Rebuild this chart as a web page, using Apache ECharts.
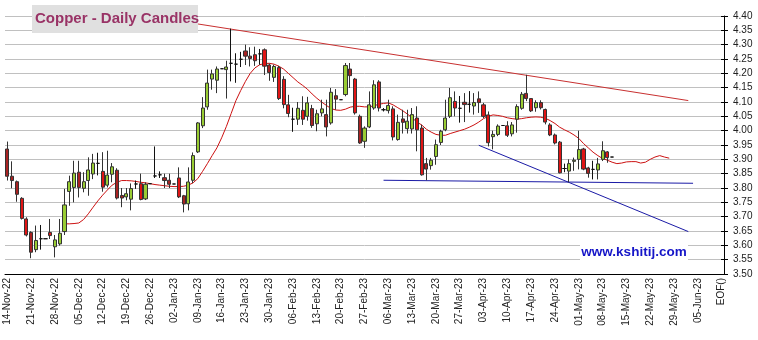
<!DOCTYPE html>
<html>
<head>
<meta charset="utf-8">
<script src="https://cdn.jsdelivr.net/npm/echarts@6/dist/echarts.min.js"></script>
<style>
  html, body { margin: 0; padding: 0; background: #ffffff; }
  #chart { width: 758px; height: 340px; }
</style>
</head>
<body>
<div id="chart"></div>
<script>
// Weekly tick labels (Mondays), one every five trading days; last slot is the end marker
const tickLabels = ['14-Nov-22','21-Nov-22','28-Nov-22','05-Dec-22','12-Dec-22','19-Dec-22','26-Dec-22',
  '02-Jan-23','09-Jan-23','16-Jan-23','23-Jan-23','30-Jan-23','06-Feb-23','13-Feb-23','20-Feb-23','27-Feb-23',
  '06-Mar-23','13-Mar-23','20-Mar-23','27-Mar-23','03-Apr-23','10-Apr-23','17-Apr-23','24-Apr-23',
  '01-May-23','08-May-23','15-May-23','22-May-23','29-May-23','05-Jun-23','EOF()'];

// Daily copper prices, one entry per weekday from 14-Nov-22
const opens = [3.936,3.841,3.822,3.764,3.692,3.645,3.585,3.623,3.623,3.645,
  3.595,3.605,3.648,3.788,3.802,3.855,3.799,3.826,3.849,3.886,
  3.858,3.810,3.848,3.862,3.774,3.769,3.761,3.814,3.815,3.762,
  3.815,3.842,3.846,3.836,3.827,3.814,3.835,3.773,3.745,3.827,
  3.926,4.017,4.083,4.180,4.176,4.216,4.213,4.235,4.232,4.249,
  4.278,4.260,4.265,4.268,4.282,4.229,4.186,4.220,4.179,4.090,
  4.040,4.040,4.071,4.050,4.077,4.024,4.062,4.056,4.027,4.122,
  4.108,4.126,4.215,4.180,4.050,3.963,4.013,4.079,4.170,4.073,
  4.070,4.076,3.969,4.041,4.007,4.006,4.044,4.009,3.885,3.878,
  3.910,3.959,4.003,4.050,4.102,4.078,4.099,4.092,4.086,4.111,
  4.090,4.055,3.979,3.987,4.018,4.017,3.989,4.040,4.078,4.130,
  4.112,4.080,4.098,4.074,4.020,3.985,3.960,3.868,3.859,3.893,
  3.900,3.936,3.870,3.865,3.863,3.900,3.926,3.908];
const closes = [3.841,3.826,3.778,3.694,3.636,3.576,3.617,3.623,3.623,3.634,
  3.619,3.642,3.741,3.822,3.852,3.802,3.822,3.863,3.887,3.886,
  3.803,3.845,3.874,3.765,3.765,3.780,3.798,3.814,3.760,3.813,
  3.815,3.842,3.846,3.826,3.813,3.814,3.769,3.744,3.821,3.913,
  4.027,4.079,4.166,4.198,4.215,4.216,4.222,4.235,4.232,4.249,
  4.260,4.252,4.244,4.268,4.225,4.203,4.224,4.112,4.091,4.060,
  4.040,4.078,4.040,4.097,4.018,4.059,4.076,4.013,4.134,4.110,
  4.108,4.227,4.192,4.062,3.957,4.009,4.090,4.160,4.079,4.073,
  4.088,3.978,4.029,4.029,4.033,4.056,4.003,3.846,3.866,3.897,
  3.951,3.998,4.044,4.115,4.079,4.078,4.091,4.092,4.098,4.098,
  4.050,3.958,3.987,4.016,4.018,3.984,4.020,4.084,4.127,4.112,
  4.069,4.098,4.080,4.030,3.985,3.957,3.853,3.868,3.885,3.897,
  3.934,3.866,3.851,3.865,3.884,3.930,3.906,3.908];
const lows = [3.826,3.799,3.752,3.690,3.631,3.555,3.576,3.585,3.623,3.622,
  3.558,3.599,3.636,3.738,3.750,3.767,3.785,3.773,3.831,3.844,
  3.787,3.802,3.820,3.760,3.733,3.757,3.722,3.797,3.757,3.758,
  3.815,3.835,3.835,3.800,3.800,3.814,3.765,3.715,3.722,3.817,
  3.922,4.009,4.073,4.143,4.131,4.216,4.112,4.172,4.167,4.222,
  4.229,4.224,4.226,4.230,4.194,4.174,4.170,4.107,4.078,4.047,
  3.996,4.020,4.020,4.035,4.010,3.998,4.050,3.980,4.021,4.073,
  4.108,4.120,4.149,4.056,3.954,3.940,4.009,4.073,4.067,4.067,
  4.060,3.966,3.965,3.990,3.990,3.990,3.928,3.843,3.827,3.864,
  3.881,3.950,3.998,4.044,4.050,4.028,4.030,4.063,4.056,4.062,
  4.044,3.945,3.935,3.981,4.018,3.978,3.980,3.993,4.073,4.103,
  4.065,4.066,4.074,4.022,3.981,3.952,3.851,3.855,3.820,3.860,
  3.865,3.862,3.836,3.830,3.830,3.894,3.888,3.908];
const highs = [3.962,3.893,3.826,3.768,3.698,3.649,3.669,3.671,3.623,3.692,
  3.636,3.692,3.797,3.843,3.895,3.895,3.855,3.907,3.919,3.923,
  3.925,3.930,3.887,3.869,3.800,3.800,3.816,3.826,3.850,3.820,
  3.815,3.945,3.858,3.850,3.850,3.814,3.872,3.776,3.872,3.924,
  4.030,4.117,4.213,4.213,4.224,4.216,4.244,4.356,4.270,4.275,
  4.300,4.291,4.293,4.285,4.287,4.234,4.230,4.226,4.190,4.125,
  4.080,4.100,4.120,4.118,4.090,4.073,4.108,4.108,4.149,4.145,
  4.108,4.236,4.236,4.184,4.056,4.015,4.137,4.176,4.176,4.079,
  4.108,4.085,4.056,4.073,4.073,4.079,4.085,4.021,3.905,3.905,
  3.969,4.003,4.108,4.149,4.137,4.121,4.131,4.138,4.131,4.137,
  4.097,4.067,4.000,4.022,4.018,4.033,4.030,4.092,4.135,4.195,
  4.112,4.106,4.106,4.077,4.026,3.990,3.964,3.885,3.900,3.906,
  4.000,3.940,3.874,3.895,3.905,3.963,3.929,3.908];

// Moving average, first value on day 12, projected past the last candle
const maStart = 12;
const maValues = [3.675,3.675,3.676,3.678,3.690,3.710,3.733,3.755,3.775,3.793,
  3.810,3.820,3.826,3.826,3.825,3.823,3.820,3.818,3.815,3.812,
  3.810,3.808,3.806,3.805,3.805,3.806,3.810,3.818,3.833,3.858,
  3.885,3.913,3.940,3.975,4.015,4.060,4.105,4.140,4.172,4.200,
  4.219,4.230,4.234,4.235,4.232,4.225,4.215,4.200,4.185,4.170,
  4.158,4.145,4.128,4.113,4.100,4.088,4.077,4.072,4.071,4.075,
  4.082,4.085,4.085,4.083,4.083,4.087,4.092,4.095,4.097,4.090,
  4.080,4.070,4.058,4.045,4.030,4.020,4.005,3.995,3.987,3.984,
  3.984,3.990,3.995,4.000,4.005,4.012,4.020,4.030,4.042,4.050,
  4.055,4.053,4.050,4.045,4.042,4.040,4.042,4.045,4.047,4.048,
  4.047,4.043,4.035,4.025,4.012,4.003,3.995,3.985,3.973,3.955,
  3.940,3.925,3.913,3.903,3.897,3.890,3.885,3.887,3.891,3.892,
  3.892,3.887,3.890,3.900,3.908,3.913,3.908,3.904];

// Trend lines as [day index, price] end points
const resistanceLine = [[37, 4.380], [143, 4.105]];
const supportLine = [[79, 3.827], [144, 3.8165]];
const fallingSupport = [[99, 3.949], [143, 3.648]];

// Down days drawn in the darker red shade
const darkDownDays = [0,1,2,5,15,23,24,33,34,37,50,51,55,64,67,69,72,74,83,88,96,99,109,112,122];

const dayCount = (tickLabels.length - 1) * 5 + 1;
const days = [];
for (let i = 0; i < dayCount; i++) days.push(String(i));

const candles = opens.map((o, i) => {
  const item = { value: [o, closes[i], lows[i], highs[i]] };
  if (darkDownDays.indexOf(i) >= 0) item.itemStyle = { color0: '#a82222' };
  return item;
});

const ma = days.map((d, i) => {
  const k = i - maStart;
  return (k >= 0 && k < maValues.length) ? maValues[k] : null;
});

const toPairs = pts => pts.map(p => [days[p[0]], p[1]]);

const font = "'Liberation Sans', Arial, sans-serif";
const chart = echarts.init(document.getElementById('chart'), null, { renderer: 'canvas' });

const yBase = {
  type: 'value', position: 'right', min: 3.5, max: 4.4, interval: 0.05, gridIndex: 0
};

chart.setOption({
  animation: false,
  backgroundColor: '#ffffff',
  grid: { left: 5, right: 34, top: 16, height: 258, containLabel: false },
  xAxis: {
    type: 'category',
    data: days,
    boundaryGap: true,
    axisLine: { lineStyle: { color: '#000', width: 1 } },
    axisTick: { show: false },
    splitLine: { show: false },
    axisLabel: {
      rotate: 90,
      margin: 4,
      interval: (index) => index % 5 === 0,
      formatter: (value, index) => tickLabels[Math.round(Number(value) / 5)] || '',
      fontFamily: font,
      fontSize: 10,
      color: '#222'
    }
  },
  yAxis: [
    Object.assign({}, yBase, {
      axisLine: { show: true, lineStyle: { color: '#000', width: 1 } },
      axisTick: { show: true, length: 4, lineStyle: { color: '#000' } },
      splitLine: { show: true, lineStyle: { color: '#c0c0c0', width: 1 } },
      axisLabel: {
        margin: 9, fontFamily: font, fontSize: 10, color: '#222',
        formatter: v => v.toFixed(2)
      }
    }),
    Object.assign({}, yBase, {
      axisLine: { show: false },
      axisTick: { show: true, inside: true, length: 3, lineStyle: { color: '#000' } },
      splitLine: { show: false },
      axisLabel: { show: false }
    })
  ],
  series: [
    {
      name: 'MA', type: 'line', data: ma, showSymbol: false, silent: true,
      lineStyle: { color: '#cc1111', width: 1 }, z: 2
    },
    {
      name: 'Resistance', type: 'line', data: toPairs(resistanceLine), showSymbol: false, silent: true,
      lineStyle: { color: '#c83030', width: 1 }, z: 2
    },
    {
      name: 'Support', type: 'line', data: toPairs(supportLine), showSymbol: false, silent: true,
      lineStyle: { color: '#1a1aa6', width: 1 }, z: 2
    },
    {
      name: 'Falling support', type: 'line', data: toPairs(fallingSupport), showSymbol: false, silent: true,
      lineStyle: { color: '#1a1aa6', width: 1 }, z: 2
    },
    {
      name: 'Copper', type: 'candlestick', data: candles, barWidth: 3.6, z: 3,
      itemStyle: {
        color: '#99cc33', color0: '#e01515',
        borderColor: '#333', borderColor0: '#333', borderColorDoji: '#111', borderWidth: 1
      }
    }
  ],
  graphic: [
    {
      type: 'rect', z: 100, shape: { x: 32, y: 5, width: 166, height: 28 },
      style: { fill: '#e0e0e0' }
    },
    {
      type: 'text', z: 101, x: 35, y: 19,
      style: {
        text: 'Copper - Daily Candles', fill: '#993366',
        font: "bold 15px 'Liberation Sans', Arial, sans-serif", textVerticalAlign: 'middle'
      }
    },
    {
      type: 'rect', z: 100, shape: { x: 580, y: 239, width: 108, height: 27 },
      style: { fill: '#ffffff' }
    },
    {
      type: 'text', z: 101, x: 634, y: 252,
      style: {
        text: 'www.kshitij.com', fill: '#1515c8',
        font: "bold 13.5px 'Liberation Sans', Arial, sans-serif",
        textAlign: 'center', textVerticalAlign: 'middle'
      }
    }
  ]
});
</script>
</body>
</html>
